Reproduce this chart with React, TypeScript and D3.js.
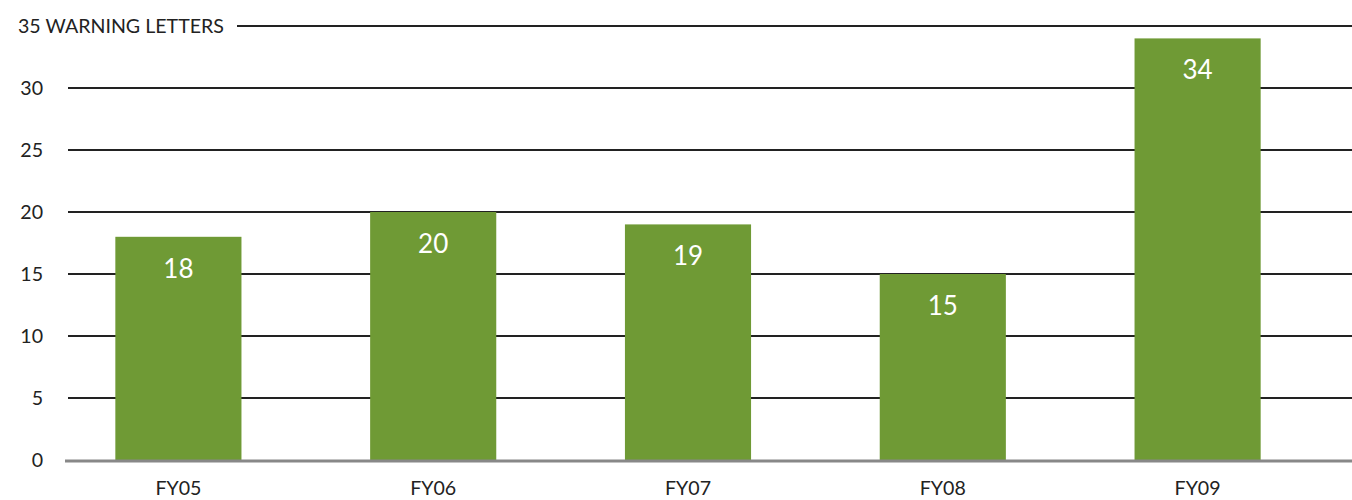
import React, { useRef, useEffect } from 'react';
import * as d3 from 'd3';

const categories = ['FY05', 'FY06', 'FY07', 'FY08', 'FY09'];
const warningLetters = [18, 20, 19, 15, 34];
const yTicks = [0, 5, 10, 15, 20, 25, 30];
const topLabel = '35 WARNING LETTERS';

const App = () => {
  const chartRef = useRef<SVGSVGElement>(null);

  useEffect(() => {
    const svg = d3.select(chartRef.current);
    const width = 1352;
    const font = 'Lato, "Open Sans", sans-serif';

    svg.selectAll('*').remove();

    const x = d3
      .scaleBand()
      .domain(categories)
      .range([51, 1325])
      .paddingInner(0.505)
      .paddingOuter(0.2525);

    const y = d3.scaleLinear().domain([0, 35]).range([460, 26]);

    // grid lines
    svg
      .append('g')
      .selectAll('line')
      .data(yTicks.filter((d) => d > 0))
      .join('line')
      .attr('x1', 68)
      .attr('x2', width)
      .attr('y1', (d) => y(d))
      .attr('y2', (d) => y(d))
      .attr('stroke', '#222')
      .attr('stroke-width', 2);

    // top line with label
    svg
      .append('line')
      .attr('x1', 237)
      .attr('x2', width)
      .attr('y1', y(35))
      .attr('y2', y(35))
      .attr('stroke', '#222')
      .attr('stroke-width', 2);

    svg
      .append('text')
      .attr('x', 18)
      .attr('y', y(35) + 7)
      .attr('font-family', font)
      .attr('font-size', 19.6)
      .attr('fill', '#222')
      .text(topLabel);

    // y tick labels
    svg
      .append('g')
      .selectAll('text')
      .data(yTicks)
      .join('text')
      .attr('x', 43)
      .attr('y', (d) => y(d) + 7)
      .attr('text-anchor', 'end')
      .attr('font-family', font)
      .attr('font-size', 19.6)
      .attr('fill', '#222')
      .text((d) => d);

    // bars
    svg
      .append('g')
      .attr('fill', '#6f9a35')
      .selectAll('rect')
      .data(warningLetters)
      .join('rect')
      .attr('x', (d, i) => x(categories[i])!)
      .attr('y', (d) => y(d))
      .attr('width', x.bandwidth())
      .attr('height', (d) => y(0) - y(d));

    // value labels
    svg
      .append('g')
      .selectAll('text')
      .data(warningLetters)
      .join('text')
      .attr('x', (d, i) => x(categories[i])! + x.bandwidth() / 2)
      .attr('y', (d) => y(d) + 41)
      .attr('text-anchor', 'middle')
      .attr('font-family', font)
      .attr('font-size', 26)
      .attr('fill', '#fff')
      .text((d) => d);

    // baseline
    svg
      .append('line')
      .attr('x1', 65)
      .attr('x2', width)
      .attr('y1', y(0) + 1)
      .attr('y2', y(0) + 1)
      .attr('stroke', '#888')
      .attr('stroke-width', 3);

    // category labels
    svg
      .append('g')
      .selectAll('text')
      .data(categories)
      .join('text')
      .attr('x', (d) => x(d)! + x.bandwidth() / 2)
      .attr('y', 495)
      .attr('text-anchor', 'middle')
      .attr('font-family', font)
      .attr('font-size', 19.6)
      .attr('fill', '#222')
      .text((d) => d);
  }, []);

  return (
    <svg
      ref={chartRef}
      width={1352}
      height={500}
      style={{ position: 'absolute', left: 0, top: 0, background: '#fff' }}
    />
  );
};

export default App;
